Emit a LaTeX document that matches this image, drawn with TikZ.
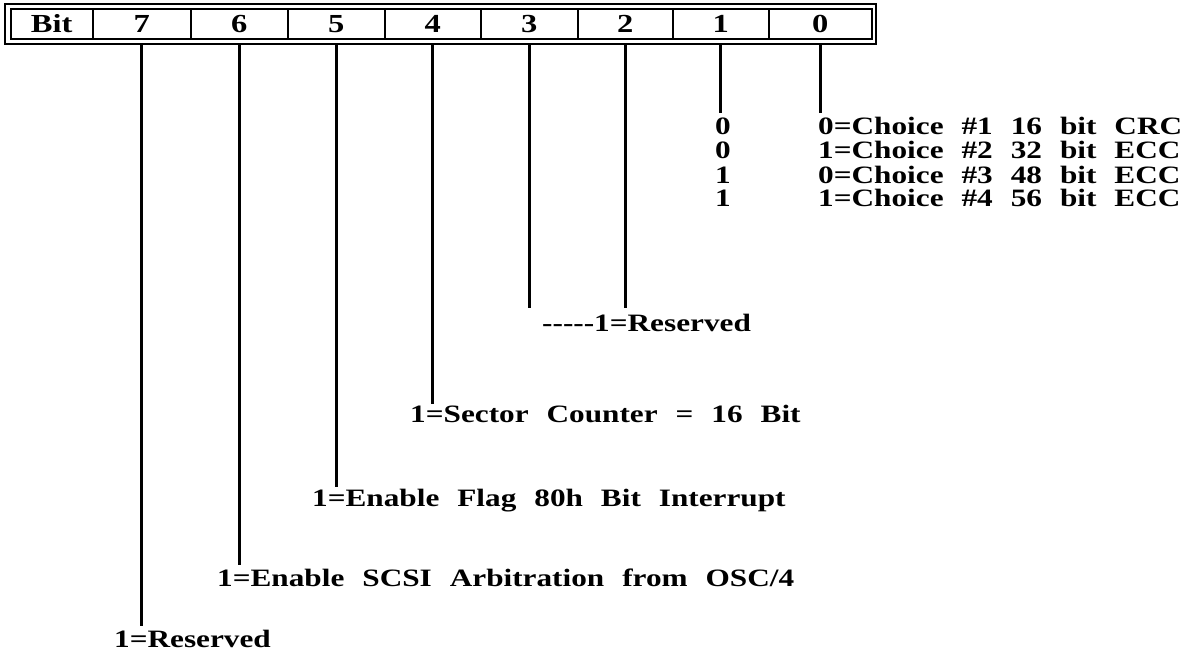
\documentclass[tikz,border=0pt]{standalone}
\usepackage{fontspec}
\setmainfont{Liberation Serif}[FakeStretch=1.25,WordSpace=2.3]
\begin{document}
\begin{tikzpicture}[x=1pt,y=-1pt,
  cell/.style={draw,line width=1.5pt,minimum height=30pt,inner sep=0pt,anchor=west,font=\fontsize{26}{28}\selectfont\bfseries},
  lbl/.style={anchor=base west,inner sep=0pt,font=\fontsize{25}{27}\selectfont\bfseries},
  lead/.style={line width=2.8pt,shorten <=5pt}]
\useasboundingbox (0,0) rectangle (1193,655);
\draw[line width=2.5pt] (5,4) rectangle (876,44);
\node[cell,minimum width=82pt] (cb) at (10,24) {Bit\hspace{36pt}};
\node[cell,minimum width=98pt] (c7) at (92,24) {7};
\node[cell,minimum width=97pt] (c6) at (190,24) {6};
\node[cell,minimum width=97pt] (c5) at (287,24) {5};
\node[cell,minimum width=96pt] (c4) at (384,24) {4};
\node[cell,minimum width=97pt] (c3) at (480,24) {3};
\node[cell,minimum width=95pt] (c2) at (577,24) {2};
\node[cell,minimum width=96pt] (c1) at (672,24) {1};
\node[cell,minimum width=103pt] (c0) at (768,24) {0};
% labels
\node[lbl] (r1a) at (715,135) {0};
\node[lbl] (r2a) at (715,159) {0};
\node[lbl] (r3a) at (715,183) {1};
\node[lbl] (r4a) at (715,207) {1};
\node[lbl] (r1b) at (818,135) {0=Choice \#1 16 bit CRC};
\node[lbl] (r2b) at (818,159) {1=Choice \#2 32 bit ECC};
\node[lbl] (r3b) at (818,183) {0=Choice \#3 48 bit ECC};
\node[lbl] (r4b) at (818,207) {1=Choice \#4 56 bit ECC};
\node[lbl] (l32) at (542,331) {-{}-{}-{}-{}-1=Reserved};
\node[lbl] (l4) at (410,422) {1=Sector Counter = 16 Bit};
\node[lbl] (l5) at (312,506) {1=Enable Flag 80h Bit Interrupt};
\node[lbl] (l6) at (217,586) {1=Enable SCSI Arbitration from OSC/4};
\node[lbl] (l7) at (114,647) {1=Reserved};
% lead end points
\coordinate (e7) at (142,626);
\coordinate (e6) at (239,565);
\coordinate (e5) at (336,487);
\coordinate (e4) at (432,404);
\coordinate (e3) at (528,308);
\coordinate (e2) at (625,308);
\coordinate (e1) at (720,113);
\coordinate (e0) at (818,113);
\foreach \b in {7,6,5,4,3,2,1,0}{
  \draw[lead] (c\b.south) -- (c\b.south |- e\b);
}
\end{tikzpicture}
\end{document}
